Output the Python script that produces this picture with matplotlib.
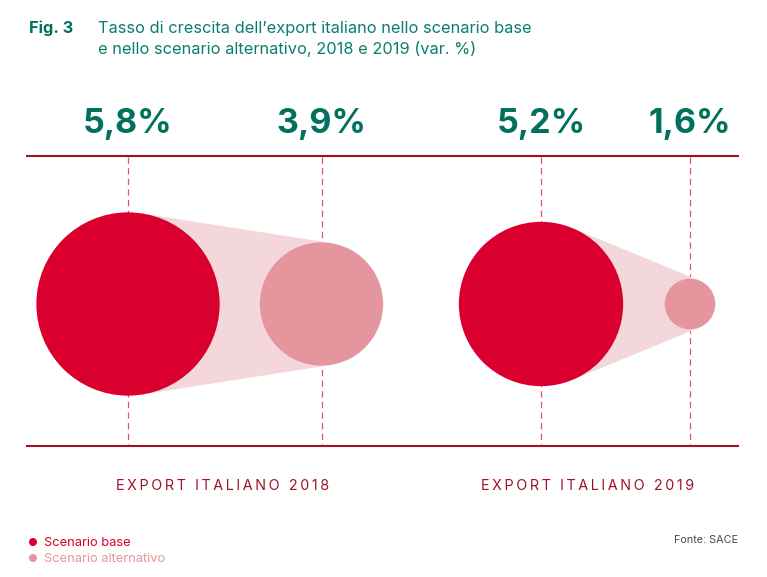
import matplotlib
matplotlib.use("Agg")
import matplotlib.pyplot as plt
from matplotlib.patches import Circle, Polygon
import numpy as np

# scenario values (var. %)
years = ["2018", "2019"]
base_values = [5.8, 5.2]
alt_values = [3.9, 1.6]
value_labels = [["5,8%", "3,9%"], ["5,2%", "1,6%"]]

GREEN = "#00705f"
TITLE_GREEN = "#0b7d6e"
DARK_RED = "#a01029"
RED = "#d90030"
PINK = "#e5969c"
LIGHT = "#f3d7da"
DASH = "#e8505f"

plt.rcParams["font.family"] = ["Inter", "DejaVu Sans"]

# pixel positions of circle centres
base_x = [128, 541]
alt_x = [321.5, 690]
center_y = 304
px_per_unit = 15.8


def spaced(s):
    # the chart labels are letter-spaced
    return "\u2009".join(s)


fig = plt.figure(figsize=(7.67, 5.77), dpi=100)
ax = fig.add_axes([0, 0, 1, 1])
ax.set_xlim(0, 767)
ax.set_ylim(577, 0)
ax.axis("off")

for i in range(2):
    x1, x2 = base_x[i], alt_x[i]
    r1 = base_values[i] * px_per_unit
    r2 = alt_values[i] * px_per_unit

    # dashed guides behind everything
    for x in (x1, x2):
        ax.plot([x, x], [157, 445], color=DASH, lw=0.9, dashes=(5, 3.5), zorder=1)

    # cone between the two circles
    s = (r1 - r2) / (x2 - x1)
    c = np.sqrt(1 - s ** 2)
    cone = [
        (x1 + r1 * s, center_y - r1 * c),
        (x2 + r2 * s, center_y - r2 * c),
        (x2 + r2 * s, center_y + r2 * c),
        (x1 + r1 * s, center_y + r1 * c),
    ]
    ax.add_patch(Polygon(cone, closed=True, fc=LIGHT, ec="none", zorder=2))
    ax.add_patch(Circle((x1, center_y), r1, fc=RED, ec="none", zorder=3))
    ax.add_patch(Circle((x2, center_y), r2, fc=PINK, ec="none", zorder=3))

    ax.text(x1, 123.5, value_labels[i][0], color=GREEN, fontsize=24.5, fontweight="bold",
            ha="center", va="center")
    ax.text(x2, 123.5, value_labels[i][1], color=GREEN, fontsize=24.5, fontweight="bold",
            ha="center", va="center")

ax.plot([26, 739], [156, 156], color=DARK_RED, lw=1.5, solid_capstyle="butt", zorder=4)
ax.plot([26, 739], [446, 446], color=DARK_RED, lw=1.5, solid_capstyle="butt", zorder=4)

ax.text(222.5, 486, spaced("EXPORT ITALIANO " + years[0]), color=DARK_RED, fontsize=10.3,
        ha="center", va="center")
ax.text(588, 486, spaced("EXPORT ITALIANO " + years[1]), color=DARK_RED, fontsize=10.3,
        ha="center", va="center")

# title
ax.text(29, 28, "Fig. 3", color=GREEN, fontsize=11.8, fontweight="bold", va="center")
ax.text(98, 28, "Tasso di crescita dell\u2019export italiano nello scenario base",
        color=TITLE_GREEN, fontsize=11.8, va="center")
ax.text(98, 49, "e nello scenario alternativo, 2018 e 2019 (var. %)",
        color=TITLE_GREEN, fontsize=11.8, va="center")

# legend
ax.add_patch(Circle((33, 542), 4, fc=RED, ec="none"))
ax.add_patch(Circle((33, 558), 4, fc=PINK, ec="none"))
ax.text(44, 542.5, "Scenario base", color=RED, fontsize=9.3, va="center")
ax.text(44, 558.5, "Scenario alternativo", color=PINK, fontsize=9.3, va="center")

ax.text(738, 540, "Fonte: SACE", color="#4a4a4a", fontsize=7.8, ha="right", va="center")

fig.savefig("out.png", dpi=100)
